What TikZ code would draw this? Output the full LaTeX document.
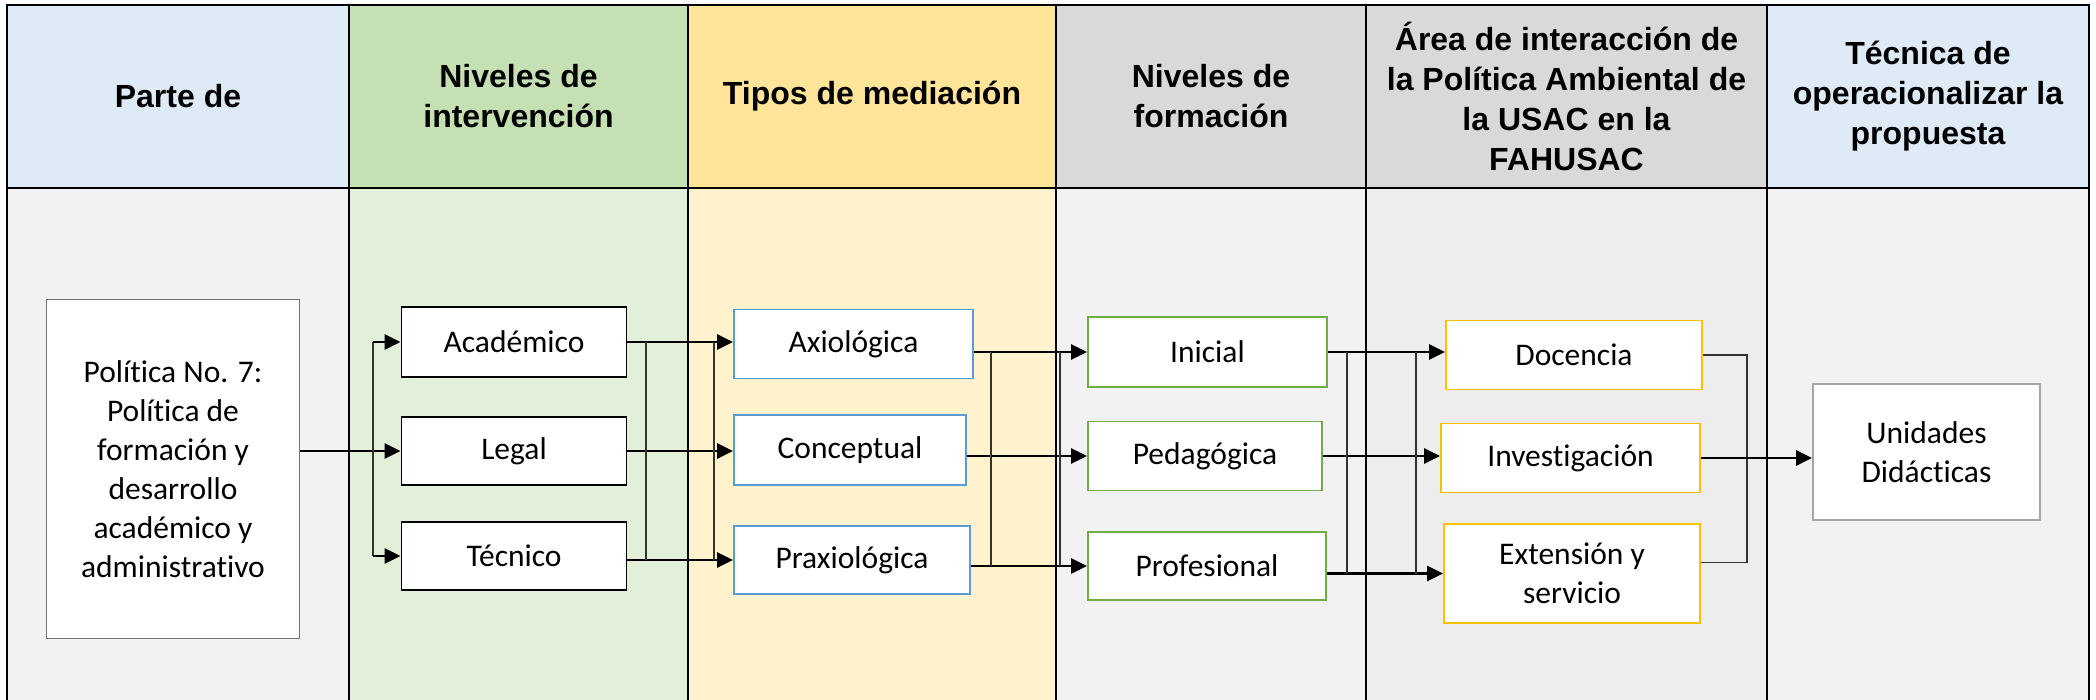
\documentclass[tikz,border=0pt]{standalone}
\usepackage{fontspec}
\setmainfont{Carlito}[Ligatures=NoCommon]
\newfontfamily\headfont{Liberation Sans}
\usetikzlibrary{arrows.meta,positioning}
\definecolor{hblue}{HTML}{DEEAF6}
\definecolor{hgreen}{HTML}{C5E0B3}
\definecolor{bgreen}{HTML}{E2EFD9}
\definecolor{hgold}{HTML}{FFE599}
\definecolor{bgold}{HTML}{FFF2CC}
\definecolor{hgray}{HTML}{D9D9D9}
\definecolor{bgray}{HTML}{F2F2F2}
\definecolor{bgrayb}{HTML}{EDEDED}
\definecolor{lblue}{HTML}{5B9BD5}
\definecolor{lgreen}{HTML}{70AD47}
\definecolor{lgold}{HTML}{FFC000}
\definecolor{lgray}{HTML}{A5A5A5}
\tikzset{
  hdr/.style={font=\headfont\bfseries\fontsize{32}{40}\selectfont, align=center},
  cell/.style={draw, fill=white, line width=1.8pt, font=\fontsize{31.5}{39}\selectfont, align=center, inner sep=0pt},
  niv/.style={cell, draw=black},
  med/.style={cell, draw=lblue},
  form/.style={cell, draw=lgreen},
  area/.style={cell, draw=lgold},
  flecha/.style={line width=2.8pt, ->},
  junta/.style={line width=1.3pt, black!80},
}
\begin{document}
\begin{tikzpicture}[x=1pt,y=-1pt,>={Triangle[length=16pt,width=15pt]}]
\useasboundingbox (0,0) rectangle (2096,700);
% columnas
\foreach \xa/\xb/\ch/\cb in {7/349/hblue/bgray,349/688/hgreen/bgreen,688/1056/hgold/bgold,1056/1366/hgray/bgray,1366/1767/hgray/bgrayb,1767/2089/hblue/bgray}{
  \fill[\ch] (\xa,5) rectangle (\xb,188);
  \fill[\cb] (\xa,188) rectangle (\xb,700);
}
\draw[line width=2.6pt] (5.7,5) -- (2090.3,5);
\draw[line width=2.6pt] (7,188) -- (2089,188);
\foreach \x in {7,349,688,1056,1366,1767,2089}\draw[line width=2.2pt] (\x,5) -- (\x,700);

\node[hdr] (h1) at (178,96) {Parte de};
\node[hdr] (h2) at (518.5,96) {Niveles de\\intervención};
\node[hdr] (h3) at (872,96) {Tipos de mediación};
\node[hdr] (h4) at (1211,96) {Niveles de\\formación};
\node[hdr] (h5) at (1566.5,96) {Área de interacción de\\la Política Ambiental de\\la USAC en la\\FAHUSAC};
\node[hdr] (h6) at (1928,96) {Técnica de\\operacionalizar la\\propuesta};

\node[cell, draw=black!55, line width=1.4pt, minimum width=253pt, minimum height=339pt] (pol) at (173,469) {Política No. 7:\\Política de\\formación y\\desarrollo\\académico y\\administrativo};

\node[niv, minimum width=225pt, minimum height=70pt] (acad) at (514,342) {Académico};
\node[niv, minimum width=225pt, minimum height=68pt] (legal) at (514,451) {Legal};
\node[niv, minimum width=225pt, minimum height=68pt] (tecn) at (514,556) {Técnico};

\node[med, minimum width=239pt, minimum height=69pt] (axio) at (853.5,344) {Axiológica};
\node[med, minimum width=232pt, minimum height=70pt] (conc) at (850,450) {Conceptual};
\node[med, minimum width=236pt, minimum height=68pt] (prax) at (852,560) {Praxiológica};

\node[form, minimum width=239pt, minimum height=70pt] (inic) at (1207.5,352) {Inicial};
\node[form, minimum width=234pt, minimum height=69pt] (peda) at (1205,456) {Pedagógica};
\node[form, minimum width=238pt, minimum height=68pt] (prof) at (1207,566) {Profesional};

\node[area, minimum width=256pt, minimum height=69pt] (doce) at (1574,355) {Docencia};
\node[area, minimum width=259pt, minimum height=69pt] (inve) at (1570.5,458) {Investigación};
\node[area, minimum width=256pt, minimum height=99pt] (exte) at (1572,573.5) {Extensión y\\servicio};

\node[cell, draw=lgray, minimum width=227pt, minimum height=136pt] (unid) at (1926.5,452) {Unidades\\Didácticas};

% uniones
\coordinate (j1) at (373,0);
\coordinate (j2) at (646,0);
\coordinate (j3) at (714,0);
\coordinate (j4) at (991,0);
\coordinate (j5) at (1060,0);
\coordinate (j6) at (1347,0);
\coordinate (j7) at (1416,0);
\coordinate (j8) at (1747,0);
\coordinate (extj) at ([yshift=11pt]exte.east);

\draw[flecha] (pol.east |- legal.west) -- (legal.west);
\draw[junta] (j1 |- acad.west) -- (j1 |- tecn.west);
\draw[flecha] (j1 |- acad.west) -- (acad.west);
\draw[flecha] (j1 |- tecn.west) -- (tecn.west);

\draw[flecha] (acad.east) -- (acad.east -| axio.west);
\draw[flecha] (legal.east) -- (legal.east -| conc.west);
\draw[flecha] (prax.west -| tecn.east) -- (prax.west);
\draw[junta] (j2 |- acad.east) -- (j2 |- prax.west);
\draw[junta] (j3 |- acad.east) -- (j3 |- prax.west);

\draw[flecha] (inic.west -| axio.east) -- (inic.west);
\draw[flecha] (peda.west -| conc.east) -- (peda.west);
\draw[flecha] (prof.west -| prax.east) -- (prof.west);
\draw[junta] (j4 |- inic.west) -- (j4 |- prof.west);
\draw[junta] (j5 |- inic.west) -- (j5 |- prof.west);

\draw[flecha] (inic.east) -- (inic.east -| doce.west);
\draw[flecha] (peda.east) -- (peda.east -| inve.west);
\draw[flecha] (exte.west -| prof.east) -- (exte.west);
\draw[junta] (j6 |- inic.east) -- (j6 |- exte.west);
\draw[junta] (j7 |- inic.east) -- (j7 |- exte.west);

\draw[junta] (doce.east) -| (j8 |- extj) -- (extj);
\draw[flecha] (inve.east) -- (inve.east -| unid.west);
\end{tikzpicture}
\end{document}
